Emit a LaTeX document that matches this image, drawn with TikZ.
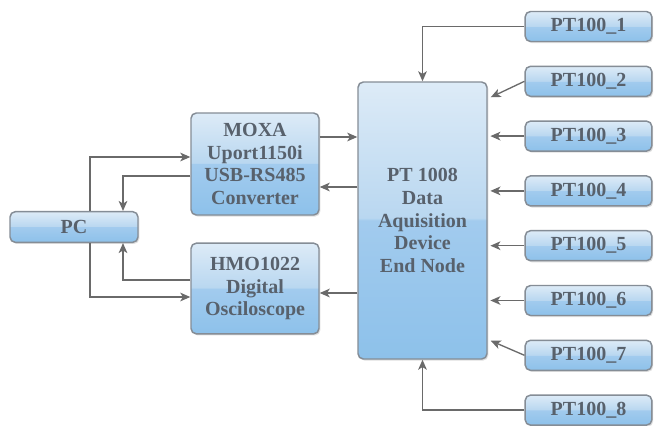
\documentclass[tikz,border=0pt]{standalone}
\usepackage{fontspec}
\setmainfont{Liberation Serif}
\usetikzlibrary{arrows.meta,shadows,calc}
\definecolor{gtop}{HTML}{DDEBF7}
\definecolor{gmidA}{HTML}{B9D7F0}
\definecolor{gmidB}{HTML}{A2CBEE}
\definecolor{gbot}{HTML}{8DC1EA}
\definecolor{bordc}{HTML}{858D96}
\definecolor{txtc}{HTML}{58616C}
\definecolor{arrc}{HTML}{6A6A6A}
\pgfdeclareverticalshading{glossy}{100bp}{color(0bp)=(gbot); color(25bp)=(gbot); color(50bp)=(gmidB); color(50.5bp)=(gmidA); color(75bp)=(gtop); color(100bp)=(gtop)}
\tikzset{
  box/.style={draw=bordc, line width=1.1pt, rounded corners=4pt, shading=glossy,
    font=\bfseries\fontsize{15}{17}\selectfont, text=txtc, align=center, inner sep=0pt,
    drop shadow={shadow xshift=1pt, shadow yshift=-1.2pt, opacity=0.25, fill=gray}},
  sensor/.style={box, minimum width=95pt, minimum height=22.5pt},
  arr/.style={draw=arrc, line width=1pt, -{Stealth[length=7.5pt,width=6.5pt,inset=2pt]}}
}
\begin{document}
\begin{tikzpicture}[x=0.75pt,y=-0.75pt]
\useasboundingbox[fill=white] (0,0) rectangle (655,425);
\node[box, minimum width=96pt, minimum height=23pt] (pc) at (74,227) {PC};
\node[box, minimum width=96pt, minimum height=76.5pt] (moxa) at (255,164) {MOXA\\Uport1150i\\USB-RS485\\Converter};
\node[box, minimum width=96pt, minimum height=68pt] (hmo) at (255,288.5) {HMO1022\\Digital\\Osciloscope};
\node[box, minimum width=96.75pt, minimum height=207.75pt] (dev) at (422.5,220.5) {PT 1008\\Data\\Aquisition\\Device\\End Node};
\foreach \i in {1,...,8} {
  \node[sensor] (p\i) at (588.5,{26.5+54.8*(\i-1)}) {PT100\_\i};
}
% sensors to device
\draw[arr] (p1.west) -| (dev.north);
\draw[arr] (p2.west) -- ($(dev.north east)+(3,16)$);
\foreach \i in {3,4,5,6} {
  \draw[arr, shorten >=2pt] (p\i.west) -- (p\i.west -| dev.east);
}
\draw[arr] (p7.west) -- ($(dev.south east)+(3,-19)$);
\draw[arr] (p8.west) -| (dev.south);
% converter / scope
\draw[arr] (moxa.east |- 0,137) -- (dev.west |- 0,137);
\draw[arr] (dev.west |- 0,187) -- (moxa.east |- 0,187);
\draw[arr] (dev.west |- 0,293) -- (hmo.east |- 0,293);
% PC links
\draw[arr] (pc.north -| 90,0) |- (moxa.west |- 0,157);
\draw[arr] (moxa.west |- 0,176) -| (pc.north -| 123,0);
\draw[arr] (hmo.west |- 0,280) -| (pc.south -| 123,0);
\draw[arr] (pc.south -| 90,0) |- (hmo.west |- 0,297);
\end{tikzpicture}
\end{document}
